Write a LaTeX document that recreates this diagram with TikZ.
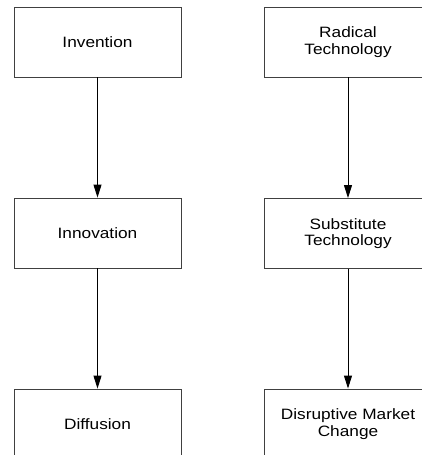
\documentclass[tikz,border=0pt]{standalone}
\usepackage{fontspec}
\setmainfont{Liberation Sans}[FakeStretch=1.15]
\usetikzlibrary{arrows.meta}
\begin{document}
\begin{tikzpicture}[x=1pt,y=-1pt,
  box/.style={draw=black!75, line width=0.9pt, minimum width=167pt, minimum height=70pt,
    inner sep=0pt, align=center, font=\fontsize{15}{16.5}\selectfont},
  flow/.style={draw=black, line width=0.9pt, -{Triangle[length=13pt,width=8pt]}}]
\useasboundingbox (0,0) rectangle (422,455);
\node[box] (inv) at (97.5,42) {Invention};
\node[box] (ino) at (97.5,233) {Innovation};
\node[box] (dif) at (97.5,424) {Diffusion};
\node[box] (rad) at (348,42) {Radical\\Technology};
\node[box] (sub) at (348,233.5) {Substitute\\Technology};
\node[box] (dis) at (348,424) {Disruptive Market\\Change};
\draw[flow] (inv) -- (ino);
\draw[flow] (ino) -- (dif);
\draw[flow] (rad) -- (sub);
\draw[flow] (sub) -- (dis);
\end{tikzpicture}
\end{document}
